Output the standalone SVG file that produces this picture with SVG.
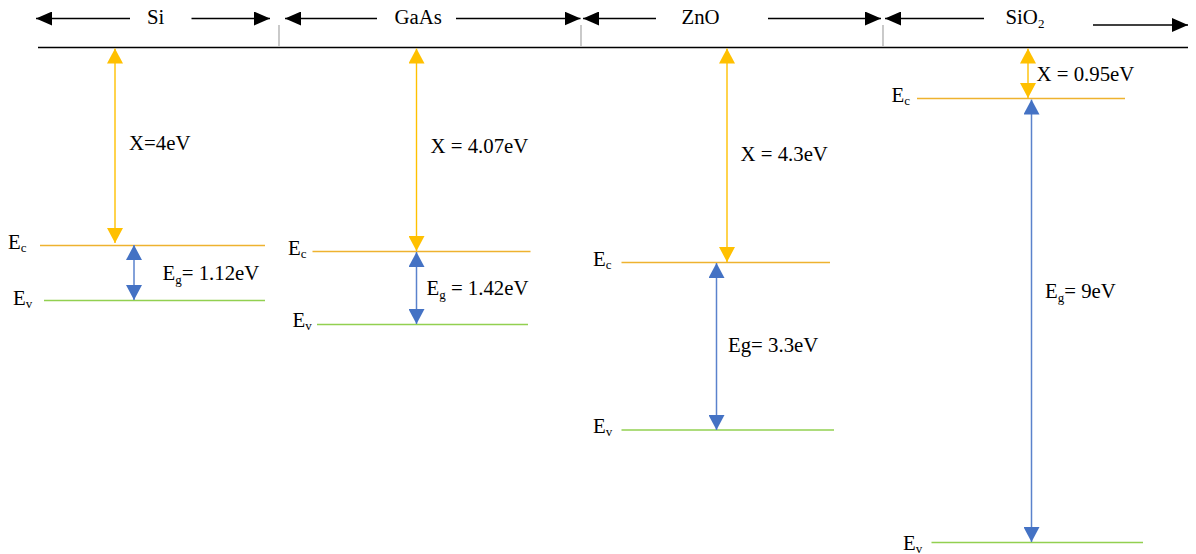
<svg xmlns="http://www.w3.org/2000/svg" width="1196" height="554" viewBox="0 0 1196 554">
<style>
text{font-family:'Liberation Serif','Times New Roman','DejaVu Serif',serif;font-size:20.8px;fill:#000}
.sub{font-size:13px}
.ec{stroke:#EEB22F;stroke-width:1.4;fill:none}
.ev{stroke:#92D050;stroke-width:1.4;fill:none}
.ox{stroke:#FFC000;stroke-width:1.4;fill:none;marker-start:url(#mo);marker-end:url(#mo)}
.bg{stroke:#5A82CC;stroke-width:1.5;fill:none;marker-start:url(#mb);marker-end:url(#mb)}
.tk{stroke:#000;stroke-width:1.3;fill:none;marker-end:url(#mk)}
.dv{stroke:#A6A6A6;stroke-width:1.2}
</style>
<defs>
<marker id="mo" viewBox="0 0 15 16" refX="15" refY="8" markerWidth="15" markerHeight="16" markerUnits="userSpaceOnUse" orient="auto-start-reverse"><path d="M0,0 L15,8 L0,16 z" fill="#FFC000"/></marker>
<marker id="mb" viewBox="0 0 15 16" refX="15" refY="8" markerWidth="15" markerHeight="16" markerUnits="userSpaceOnUse" orient="auto-start-reverse"><path d="M0,0 L15,8 L0,16 z" fill="#4472C4"/></marker>
<marker id="mk" viewBox="0 0 16 14" refX="16" refY="7" markerWidth="16" markerHeight="14" markerUnits="userSpaceOnUse" orient="auto"><path d="M0,0 L16,7 L0,14 z" fill="#000"/></marker>
</defs>
<rect width="1196" height="554" fill="#fff"/>
<g id="axis">
<line x1="38" y1="47.5" x2="1188" y2="47.5" stroke="#000" stroke-width="1.4"/>
<line class="dv" x1="279" y1="25" x2="279" y2="46"/>
<line class="dv" x1="581" y1="25" x2="581" y2="46"/>
<line class="dv" x1="883" y1="25" x2="883" y2="46"/>
</g>
<g id="si">
<text x="147" y="24">Si</text>
<line class="ec" x1="40" y1="245.5" x2="265" y2="245.5"/>
<line class="ev" x1="44" y1="300.5" x2="265" y2="300.5"/>
<text x="8" y="249">E<tspan class="sub" dy="3">c</tspan></text>
<text x="13" y="305">E<tspan class="sub" dy="3">v</tspan></text>
<text x="129" y="150">X=4eV</text>
<text x="162.5" y="280">E<tspan class="sub" dy="4">g</tspan><tspan dy="-4">= 1.12eV</tspan></text>
</g>
<g id="gaas">
<text x="394.5" y="24">GaAs</text>
<line class="ec" x1="312.5" y1="251.5" x2="530.5" y2="251.5"/>
<line class="ev" x1="317" y1="324.5" x2="528" y2="324.5"/>
<text x="288" y="255">E<tspan class="sub" dy="3">c</tspan></text>
<text x="292.5" y="327">E<tspan class="sub" dy="3">v</tspan></text>
<text x="430.5" y="152.5">X = 4.07eV</text>
<text x="426.5" y="295">E<tspan class="sub" dy="4">g</tspan><tspan dy="-4"> = 1.42eV</tspan></text>
</g>
<g id="zno">
<text x="681.5" y="24">ZnO</text>
<line class="ec" x1="621.5" y1="262.5" x2="830" y2="262.5"/>
<line class="ev" x1="621.5" y1="430" x2="834" y2="430"/>
<text x="593" y="266">E<tspan class="sub" dy="3">c</tspan></text>
<text x="593" y="433">E<tspan class="sub" dy="3">v</tspan></text>
<text x="740.5" y="161">X = 4.3eV</text>
<text x="728" y="351.5">Eg= 3.3eV</text>
</g>
<g id="sio2">
<text x="1005.5" y="24">SiO<tspan class="sub" dy="4">2</tspan></text>
<line class="ec" x1="917" y1="98.5" x2="1125" y2="98.5"/>
<line class="ev" x1="931.5" y1="542.5" x2="1143" y2="542.5"/>
<text x="891.5" y="101.5">E<tspan class="sub" dy="3">c</tspan></text>
<text x="903" y="550">E<tspan class="sub" dy="3">v</tspan></text>
<text x="1036.5" y="80.5">X = 0.95eV</text>
<text x="1045" y="298">E<tspan class="sub" dy="4">g</tspan><tspan dy="-4">= 9eV</tspan></text>
</g>
<g id="connectors">
<line class="tk" x1="130" y1="18.5" x2="36" y2="18.5"/>
<line class="tk" x1="191.5" y1="18.5" x2="270" y2="18.5"/>
<line class="tk" x1="377" y1="18.5" x2="285" y2="18.5"/>
<line class="tk" x1="456" y1="18.5" x2="580.5" y2="18.5"/>
<line class="tk" x1="656" y1="18.5" x2="583" y2="18.5"/>
<line class="tk" x1="768" y1="18.5" x2="881" y2="18.5"/>
<line class="tk" x1="984" y1="18.5" x2="885" y2="18.5"/>
<line class="tk" x1="1093" y1="25" x2="1188" y2="25"/>
<line class="ox" x1="115" y1="48.5" x2="115" y2="243"/>
<line class="ox" x1="416.5" y1="48.5" x2="416.5" y2="251"/>
<line class="ox" x1="727" y1="48.5" x2="727" y2="262"/>
<line class="ox" x1="1028" y1="48.5" x2="1028" y2="98"/>
<line class="bg" x1="134" y1="245" x2="134" y2="300"/>
<line class="bg" x1="416.5" y1="252" x2="416.5" y2="324"/>
<line class="bg" x1="716.5" y1="263" x2="716.5" y2="430"/>
<line class="bg" x1="1031.5" y1="99.5" x2="1031.5" y2="542"/>
</g>
</svg>
